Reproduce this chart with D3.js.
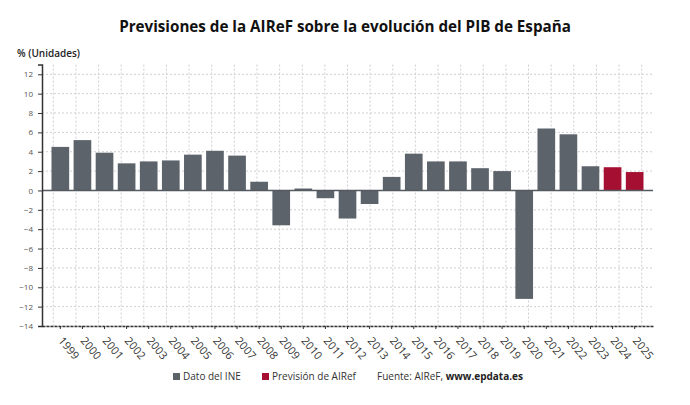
<!DOCTYPE html>
<html><head><meta charset="utf-8">
<script src="https://cdn.jsdelivr.net/npm/d3@7"></script>
<style>
body{margin:0;background:#fff;font-family:"Open Sans",sans-serif;}
svg{display:block;}
</style></head><body>
<svg id="c" width="690" height="405"></svg>
<script>
const years = ["1999","2000","2001","2002","2003","2004","2005","2006","2007","2008","2009","2010","2011","2012","2013","2014","2015","2016","2017","2018","2019","2020","2021","2022","2023","2024","2025"];
const values = [4.5,5.2,3.9,2.8,3.0,3.1,3.7,4.1,3.6,0.9,-3.6,0.2,-0.8,-2.9,-1.4,1.4,3.8,3.0,3.0,2.3,2.0,-11.2,6.4,5.8,2.5,2.4,1.9];
const sources = ["INE","INE","INE","INE","INE","INE","INE","INE","INE","INE","INE","INE","INE","INE","INE","INE","INE","INE","INE","INE","INE","INE","INE","INE","INE","AIReF","AIReF"];
const yTicks = [-14,-12,-10,-8,-6,-4,-2,0,2,4,6,8,10,12];
const legendLabels = ["Dato del INE","Previsión de AIRef"];
const colors = {INE:"#5d636b", AIReF:"#a50f32"};

const svg = d3.select("#c");
const L = 42, R = 653, T = 64.6, B = 326;
const x = d3.scaleBand().domain(years).range([L,R]).paddingInner(0.2).paddingOuter(0.43);
const xg = d3.scaleBand().domain(years).range([L,R]).padding(0);
const y = d3.scaleLinear().domain([-14,13]).range([B,T]);

// grid
const g = svg.append("g");
g.selectAll(".hg").data(yTicks).enter().append("line")
  .attr("x1",L).attr("x2",R).attr("y1",d=>y(d)).attr("y2",d=>y(d))
  .attr("stroke","#cfcfd4").attr("stroke-width",1).attr("stroke-dasharray","2,2");
g.selectAll(".vg").data(years).enter().append("line")
  .attr("x1",d=>xg(d)+xg.bandwidth()/2).attr("x2",d=>xg(d)+xg.bandwidth()/2)
  .attr("y1",T).attr("y2",B)
  .attr("stroke","#cfcfd4").attr("stroke-width",1).attr("stroke-dasharray","2,2");

// bars
svg.selectAll(".bar").data(years).enter().append("rect")
  .attr("x",d=>x(d)).attr("width",x.bandwidth())
  .attr("y",(d,i)=>y(Math.max(0,values[i])))
  .attr("height",(d,i)=>Math.abs(y(values[i])-y(0)))
  .attr("fill",(d,i)=>colors[sources[i]]);

// zero line
svg.append("line").attr("x1",L).attr("x2",R).attr("y1",y(0)).attr("y2",y(0))
  .attr("stroke","#555a60").attr("stroke-width",1.5);

// y axis
const ya = svg.append("g").attr("transform",`translate(${L},0)`)
  .call(d3.axisLeft(y).tickValues(yTicks).tickSize(4).tickPadding(5));
ya.select(".domain").attr("stroke","#333").attr("stroke-width",1.5);
ya.selectAll(".tick line").attr("stroke","#333");
ya.selectAll("text").attr("fill","#555").style("font-size","8px").style("font-family","Open Sans");

// x axis
const xa = svg.append("g").attr("transform",`translate(0,${B})`)
  .call(d3.axisBottom(x).tickSize(3).tickSizeOuter(0));
xa.select(".domain").attr("stroke","#333").attr("stroke-width",1.5).attr("stroke-dasharray","3,1");
xa.selectAll(".tick line").attr("stroke","#333");
xa.selectAll("text").attr("fill","#333").style("font-size","11px").style("font-family","Open Sans")
  .attr("text-anchor","start").attr("x",0).attr("y",0).attr("dy",0)
  .attr("transform","translate(-2.5,15) rotate(50)");

// title
svg.append("text").attr("x",345).attr("y",32).attr("text-anchor","middle")
  .style("font-size","15.2px").style("font-weight","bold").attr("fill","#111")
  .text("Previsiones de la AIReF sobre la evolución del PIB de España");
svg.append("text").attr("x",17).attr("y",57).style("font-size","10px").style("font-weight","600").attr("fill","#222")
  .text("% (Unidades)");

// legend
const ly = 380;
const lg = svg.append("g");
const items = [{label:legendLabels[0],c:colors.INE,x:173},{label:legendLabels[1],c:colors.AIReF,x:262}];
items.forEach(it=>{
  lg.append("rect").attr("x",it.x).attr("y",ly-7).attr("width",7).attr("height",7).attr("fill",it.c);
  lg.append("text").attr("x",it.x+10).attr("y",ly).style("font-size","10px").attr("fill","#333").text(it.label);
});
const ft = lg.append("text").attr("x",377).attr("y",ly).style("font-size","10px").attr("fill","#333");
ft.append("tspan").text("Fuente: AIReF, ");
ft.append("tspan").style("font-weight","bold").attr("fill","#222").text("www.epdata.es");
</script>
</body></html>
